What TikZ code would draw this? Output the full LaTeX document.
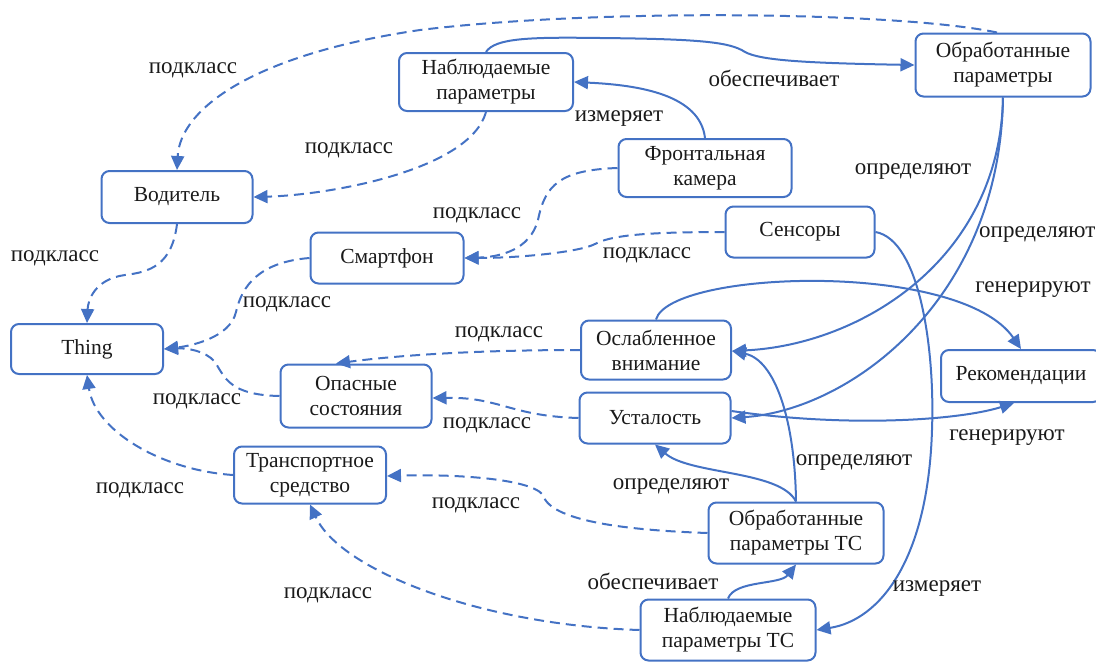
\documentclass[tikz,border=0pt]{standalone}
\usepackage{fontspec}
\newfontfamily\diagfont{Liberation Serif}
\usetikzlibrary{arrows.meta}
\definecolor{edgeblue}{HTML}{4472C4}
\definecolor{inkblack}{HTML}{1A1A1A}
\tikzset{
  concept/.style={draw=edgeblue, line width=2pt, rounded corners=8pt, align=center,
    inner sep=0pt, text=inkblack, font=\diagfont\fontsize{21.5}{25}\selectfont},
  rel/.style={text=inkblack, inner sep=0pt, font=\diagfont\fontsize{23}{25}\selectfont},
  subcls/.style={draw=edgeblue, line width=2pt, dash pattern=on 10pt off 6pt,
    -{Triangle[length=14pt,width=13pt]}},
  link/.style={draw=edgeblue, line width=2pt, -{Triangle[length=14pt,width=13pt]}},
}
\begin{document}
\begin{tikzpicture}[x=1pt,y=-1pt]
\useasboundingbox (0,0) rectangle (1096,662);

% concepts
\node[concept, minimum width=174pt, minimum height=58pt] (np)    at (486,82)  {Наблюдаемые\\параметры};
\node[concept, minimum width=175pt, minimum height=63pt] (op)    at (1003,65) {Обработанные\\параметры};
\node[concept, minimum width=151pt, minimum height=52pt] (vod)   at (177,197) {Водитель};
\node[concept, minimum width=173pt, minimum height=58pt] (fk)    at (705,168) {Фронтальная\\камера};
\node[concept, minimum width=149pt, minimum height=51pt] (sens)  at (800,232) {Сенсоры};
\node[concept, minimum width=153pt, minimum height=51pt] (smart) at (387,258) {Смартфон};
\node[concept, minimum width=152pt, minimum height=50pt] (thing) at (87,349)  {Thing};
\node[concept, minimum width=150pt, minimum height=59pt] (ov)    at (656,350) {Ослабленное\\внимание};
\node[concept, minimum width=160pt, minimum height=52pt] (rec)   at (1021,376) {Рекомендации};
\node[concept, minimum width=151pt, minimum height=63pt] (os)    at (356,396) {Опасные\\состояния};
\node[concept, minimum width=151pt, minimum height=51pt] (ust)   at (655,418) {Усталость};
\node[concept, minimum width=152pt, minimum height=57pt] (ts)    at (310,475) {Транспортное\\средство};
\node[concept, minimum width=175pt, minimum height=61pt] (optc)  at (796,533) {Обработанные\\параметры ТС};
\node[concept, minimum width=175pt, minimum height=61pt] (nptc)  at (728,630) {Наблюдаемые\\параметры ТС};

% subclass links
\draw[subcls] ([xshift=-6pt]op.north) .. controls (900,12) and (600,8) .. (420,30)
  .. controls (250,55) and (180,110) .. (vod.north);
\draw[subcls] (np.south) .. controls (470,170) and (330,195) .. (vod.east);
\draw[subcls] (vod.south) .. controls (172,265) and (150,272) .. (125,275)
  .. controls (95,279) and (88,300) .. (thing.north);
\draw[subcls] (fk.west) .. controls (560,170) and (545,185) .. (538,220)
  .. controls (530,250) and (500,257) .. (smart.east);
\draw[subcls] (sens.west) .. controls (640,232) and (610,236) .. (595,244)
  .. controls (580,252) and (520,258) .. (smart.east);
\draw[subcls] (smart.west) .. controls (260,262) and (242,285) .. (236,312)
  .. controls (230,338) and (190,346) .. (thing.east);
\draw[subcls] (os.west) .. controls (230,395) and (225,378) .. (215,362)
  .. controls (205,350) and (185,348) .. (thing.east);
\draw[subcls] (ts.west) .. controls (160,470) and (95,430) .. (thing.south);
\draw[subcls] (ov.west) .. controls (480,350) and (400,355) .. ([xshift=-20pt]os.north);
\draw[subcls] (ust.west) .. controls (510,416) and (500,397) .. ([yshift=-2pt]os.east);
\draw[subcls] (optc.west) .. controls (620,530) and (550,520) .. (543,495)
  .. controls (530,478) and (450,474) .. ([yshift=-1pt]ts.east);
\draw[subcls] (nptc.west) .. controls (480,625) and (340,570) .. (ts.south);

% other relations
\draw[link] (fk.north) .. controls (700,95) and (640,85) .. (np.east);
\draw[link] (np.north) .. controls (495,38) and (530,37) .. (600,38)
  .. controls (700,39) and (730,42) .. (745,52)
  .. controls (760,60) and (800,63) .. (op.west);
\draw[link] (op.south) .. controls (1000,260) and (860,345) .. ([yshift=-1pt]ov.east);
\draw[link] (op.south) .. controls (1000,300) and (850,410) .. (ust.east);
\draw[link] (ov.north) .. controls (670,270) and (960,260) .. (rec.north);
\draw[link] ([yshift=7pt]ust.east) .. controls (850,428) and (960,420) .. ([xshift=-7pt]rec.south);
\draw[link] (sens.east) .. controls (920,240) and (935,350) .. (932,430)
  .. controls (928,560) and (880,620) .. (nptc.east);
\draw[link] (nptc.north) .. controls (735,580) and (780,585) .. (optc.south);
\draw[link] (optc.north) .. controls (780,470) and (690,475) .. (ust.south);
\draw[link] (optc.north) .. controls (795,420) and (775,360) .. ([yshift=-1pt]ov.east);

% relation labels
\node[rel] (l1)  at (193,70)  {подкласс};
\node[rel] (l2)  at (349,150) {подкласс};
\node[rel] (l3)  at (55,258)  {подкласс};
\node[rel] (l4)  at (477,215) {подкласс};
\node[rel] (l5)  at (647,255) {подкласс};
\node[rel] (l6)  at (287,304) {подкласс};
\node[rel] (l7)  at (499,334) {подкласс};
\node[rel] (l8)  at (197,401) {подкласс};
\node[rel] (l9)  at (487,425) {подкласс};
\node[rel] (l10) at (140,490) {подкласс};
\node[rel] (l11) at (476,505) {подкласс};
\node[rel] (l12) at (328,595) {подкласс};
\node[rel] (l13) at (619,119) {измеряет};
\node[rel] (l14) at (774,78)  {обеспечивает};
\node[rel] (l15) at (913,172) {определяют};
\node[rel, anchor=west] (l16) at (979,235) {определяют};
\node[rel] (l17) at (1033,290) {генерируют};
\node[rel] (l18) at (1007,438) {генерируют};
\node[rel] (l19) at (854,463) {определяют};
\node[rel] (l20) at (671,487) {определяют};
\node[rel] (l21) at (653,581) {обеспечивает};
\node[rel] (l22) at (937,589) {измеряет};
\end{tikzpicture}
\end{document}
